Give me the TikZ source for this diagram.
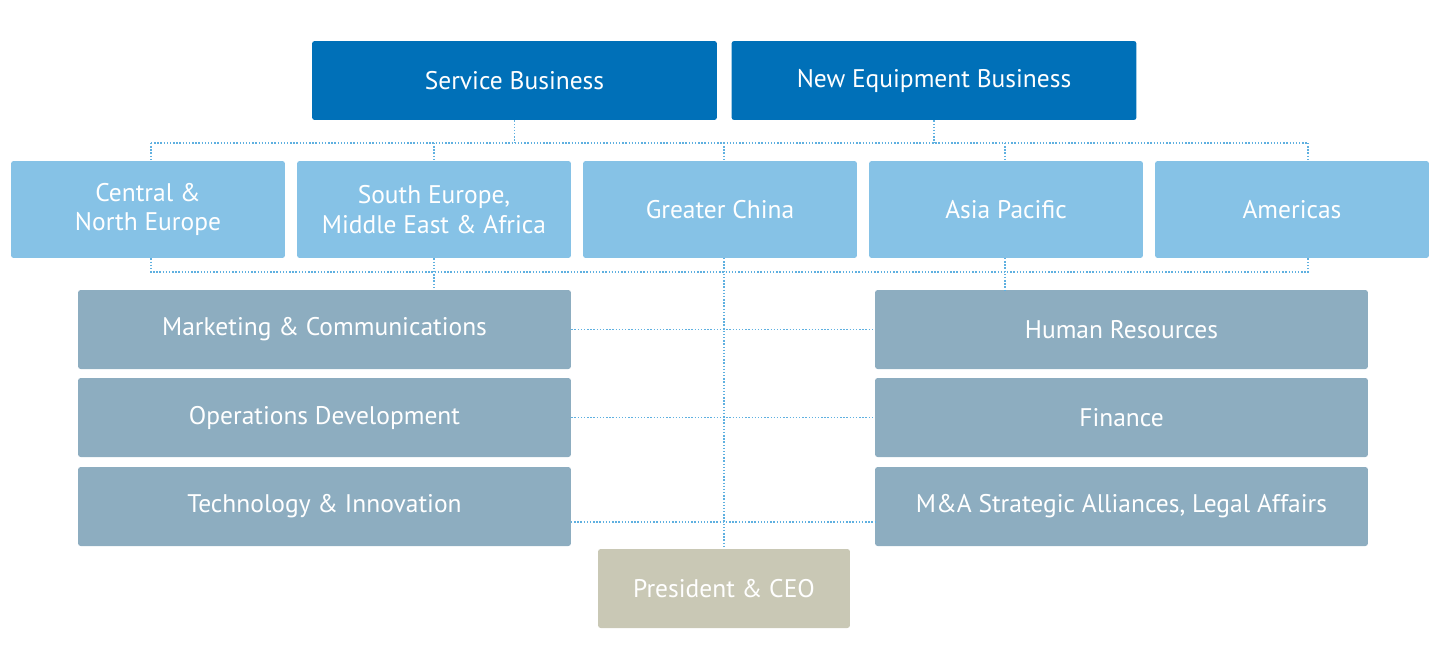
\documentclass[tikz,border=0pt]{standalone}
\usepackage{fontspec}
\setmainfont{PT Sans}
\usetikzlibrary{positioning}
\definecolor{bizblue}{HTML}{0070B8}
\definecolor{regblue}{HTML}{86C2E6}
\definecolor{fungrey}{HTML}{8DADC0}
\definecolor{ceogrey}{HTML}{C9C8B5}
\definecolor{linkblue}{HTML}{5FB0E0}
\begin{document}
\begin{tikzpicture}[x=0.02cm,y=-0.02cm,
    box/.style={rounded corners=1.5pt,text=white,align=center,inner sep=0pt,
      font=\fontsize{14.5}{17}\selectfont},
    bizbox/.style={box,fill=bizblue,minimum width=8.1cm,minimum height=1.58cm},
    regbox/.style={box,fill=regblue,minimum width=5.48cm,minimum height=1.94cm},
    funbox/.style={box,fill=fungrey,minimum width=9.86cm,minimum height=1.58cm},
    ceobox/.style={box,fill=ceogrey,minimum width=5.04cm,minimum height=1.58cm},
    link/.style={draw=linkblue,densely dotted,line width=0.8pt}]
  \useasboundingbox (0,0) rectangle (1440,670);
  % business lines
  \node[bizbox] (service) at (514.5,80.5) {Service Business};
  \node[bizbox] (newequip) at (934,80.5) {New Equipment Business};
  % regions
  \node[regbox] (cne) at (148,209.5) {Central \&\\North Europe};
  \node[regbox] (seme) at (434,209.5) {South Europe,\\Middle East \& Africa};
  \node[regbox] (china) at (720,209.5) {Greater China};
  \node[regbox] (apac) at (1006,209.5) {Asia Pacific};
  \node[regbox] (americas) at (1292,209.5) {Americas};
  % functions
  \node[funbox] (marketing) at (324.5,329.5) {Marketing \& Communications};
  \node[funbox] (operations) at (324.5,417.5) {Operations Development};
  \node[funbox] (technology) at (324.5,506.5) {Technology \& Innovation};
  \node[funbox] (hr) at (1121.5,329.5) {Human Resources};
  \node[funbox] (finance) at (1121.5,417.5) {Finance};
  \node[funbox] (legal) at (1121.5,506.5) {M\&A Strategic Alliances, Legal Affairs};
  \node[ceobox] (ceo) at (724,588.5) {President \& CEO};
  % junctions of the dotted links
  \coordinate (topL) at (151,143);
  \coordinate (topR) at (1308,143);
  \coordinate (botL) at (151,272);
  \coordinate (botR) at (1308,272);
  \coordinate (techR) at (571,522);
  \coordinate (legalL) at (875,522);
  % dotted links
  \draw[link] (service.south) -- (service.south |- topL);
  \draw[link] (newequip.south) -- (newequip.south |- topL);
  \draw[link] (topL) -- (topR);
  \draw[link] (topL) -- (topL |- cne.north);
  \draw[link] (topR) -- (topR |- americas.north);
  \draw[link] (seme.north |- topL) -- (seme.north);
  \draw[link] (724,143) -- (724,161);
  \draw[link] (1005,143) -- (1005,161);
  \draw[link] (botL |- cne.south) -- (botL) -- (botR) -- (botR |- americas.south);
  \draw[link] (seme.south) -- (seme.south |- marketing.north);
  \draw[link] (1005,258) -- (1005,290);
  \draw[link] (724,258) -- (ceo.north);
  \draw[link] (marketing.east) -- (hr.west);
  \draw[link] (operations.east) -- (finance.west);
  \draw[link] (techR) -- (legalL);
\end{tikzpicture}
\end{document}
